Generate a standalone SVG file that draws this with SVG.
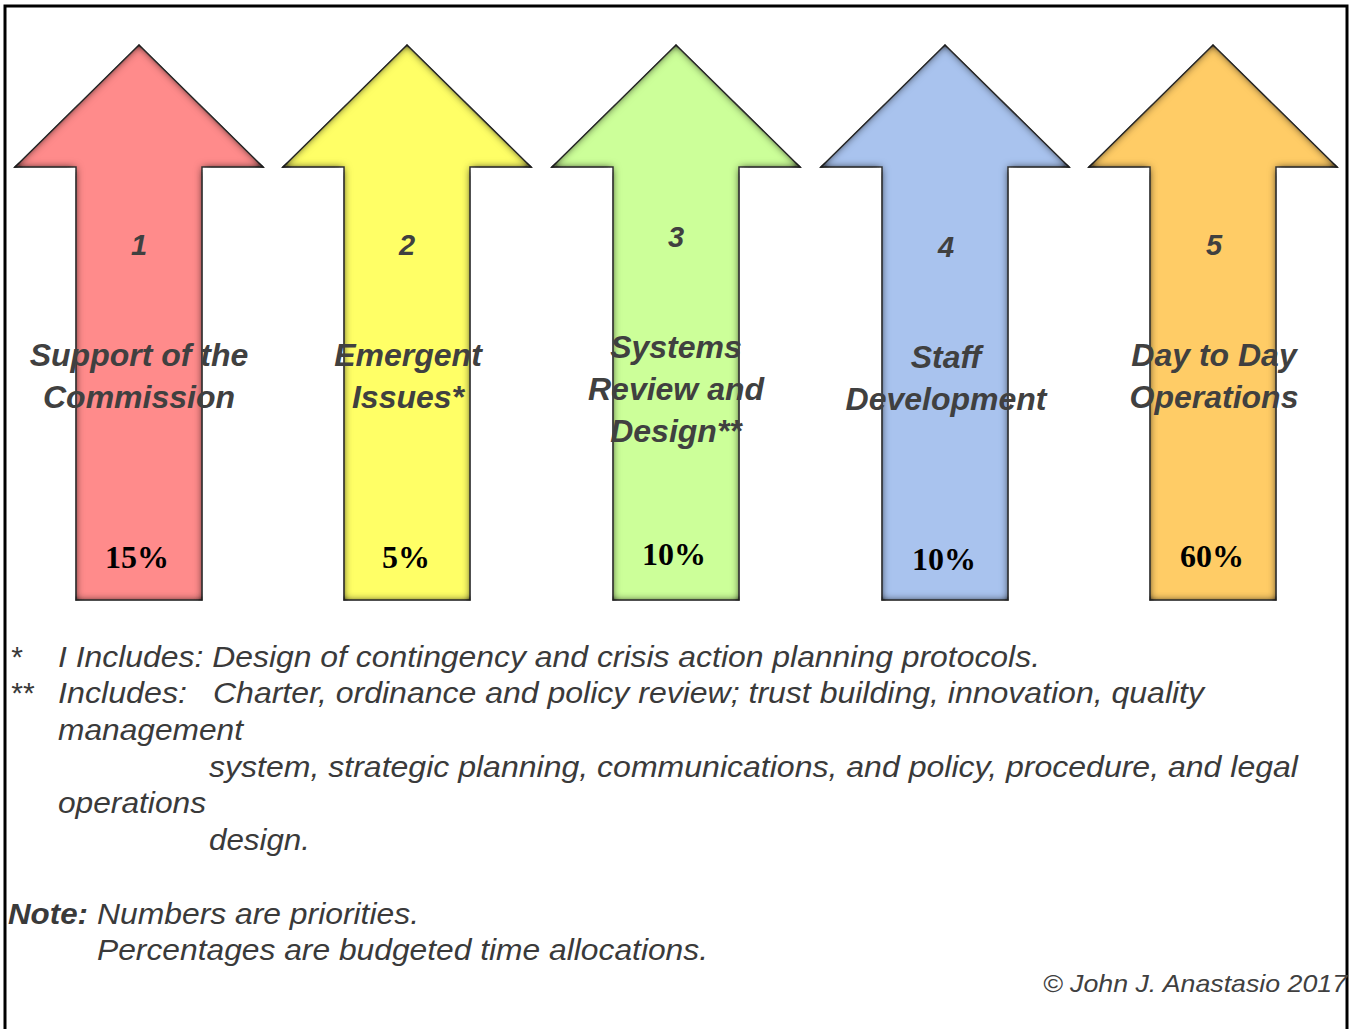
<svg xmlns="http://www.w3.org/2000/svg" xmlns:xlink="http://www.w3.org/1999/xlink" width="1349" height="1029" viewBox="0 0 1349 1029">
  <style>
    .num { font-family: "Liberation Sans", Arial, sans-serif; font-weight: bold; font-style: italic; font-size: 29px; fill: #404040; text-anchor: middle; }
    .lbl { font-family: "Liberation Sans", Arial, sans-serif; font-weight: bold; font-style: italic; font-size: 32px; fill: #404040; text-anchor: middle; }
    .pct { font-family: "Liberation Serif", "Times New Roman", serif; font-weight: bold; font-size: 32px; fill: #000; text-anchor: middle; }
    .fn { font-family: "Liberation Sans", Arial, sans-serif; font-style: italic; font-size: 30px; fill: #3a3a3a; }
    .fnb { font-family: "Liberation Sans", Arial, sans-serif; font-style: italic; font-weight: bold; font-size: 30px; fill: #3a3a3a; }
    .copy { font-family: "Liberation Sans", Arial, sans-serif; font-style: italic; font-size: 24px; fill: #404040; }
    .frame { fill: none; stroke: #000; stroke-width: 3; }
    .arrow { stroke: #3c3c3c; stroke-width: 1.5; filter: url(#bevel); }
  </style>
  <defs>
    <!-- block arrow pointing up, centred on x = 0 -->
    <path id="arrow" d="M0,45 L124,167 L63,167 L63,600 L-63,600 L-63,167 L-124,167 Z"/>
    <!-- soft dark inner shading along the outline -->
    <filter id="bevel" x="-10%" y="-5%" width="120%" height="110%">
      <feGaussianBlur in="SourceGraphic" stdDeviation="0.7" result="soft"/>
      <feGaussianBlur in="SourceAlpha" stdDeviation="4" result="blur"/>
      <feComposite in="SourceAlpha" in2="blur" operator="arithmetic" k2="1.8" k3="-1.8" result="edge"/>
      <feFlood flood-color="#1a1a1a" flood-opacity="0.85"/>
      <feComposite in2="edge" operator="in" result="shade"/>
      <feMerge>
        <feMergeNode in="soft"/>
        <feMergeNode in="shade"/>
      </feMerge>
    </filter>
  </defs>

  <rect width="1349" height="1029" fill="#fff"/>
  <rect class="frame" x="5" y="6" width="1342" height="1040"/>

  <g id="connectors"/>

  <g id="node-1">
    <use xlink:href="#arrow" class="arrow" x="139" fill="#ff8b8b"/>
    <text class="num" x="139" y="255">1</text>
    <text class="lbl" x="139" y="366">Support of the</text>
    <text class="lbl" x="139" y="408">Commission</text>
    <text class="pct" x="137" y="568">15%</text>
  </g>

  <g id="node-2">
    <use xlink:href="#arrow" class="arrow" x="407" fill="#ffff66"/>
    <text class="num" x="407" y="255">2</text>
    <text class="lbl" x="408" y="366">Emergent</text>
    <text class="lbl" x="408" y="408">Issues*</text>
    <text class="pct" x="406" y="568">5%</text>
  </g>

  <g id="node-3">
    <use xlink:href="#arrow" class="arrow" x="676" fill="#ccff99"/>
    <text class="num" x="676" y="247">3</text>
    <text class="lbl" x="676" y="358">Systems</text>
    <text class="lbl" x="676" y="400">Review and</text>
    <text class="lbl" x="676" y="442">Design**</text>
    <text class="pct" x="674" y="565">10%</text>
  </g>

  <g id="node-4">
    <use xlink:href="#arrow" class="arrow" x="945" fill="#a9c3ee"/>
    <text class="num" x="946" y="257">4</text>
    <text class="lbl" x="946" y="368">Staff</text>
    <text class="lbl" x="946" y="410">Development</text>
    <text class="pct" x="944" y="570">10%</text>
  </g>

  <g id="node-5">
    <use xlink:href="#arrow" class="arrow" x="1213" fill="#ffcc66"/>
    <text class="num" x="1214" y="255">5</text>
    <text class="lbl" x="1214" y="366">Day to Day</text>
    <text class="lbl" x="1214" y="408">Operations</text>
    <text class="pct" x="1212" y="567">60%</text>
  </g>

  <g id="footnotes">
    <text class="fn" x="10" y="667">*</text>
    <text class="fn" x="58" y="667" textLength="982" lengthAdjust="spacingAndGlyphs">I Includes: Design of contingency and crisis action planning protocols.</text>
    <text class="fn" x="10" y="703">**</text>
    <text class="fn" x="58" y="703" textLength="129" lengthAdjust="spacingAndGlyphs">Includes:</text>
    <text class="fn" x="213" y="703" textLength="991" lengthAdjust="spacingAndGlyphs">Charter, ordinance and policy review; trust building, innovation, quality</text>
    <text class="fn" x="58" y="740" textLength="185" lengthAdjust="spacingAndGlyphs">management</text>
    <text class="fn" x="209" y="777" textLength="1089" lengthAdjust="spacingAndGlyphs">system, strategic planning, communications, and policy, procedure, and legal</text>
    <text class="fn" x="58" y="813" textLength="148" lengthAdjust="spacingAndGlyphs">operations</text>
    <text class="fn" x="209" y="850" textLength="101" lengthAdjust="spacingAndGlyphs">design.</text>
  </g>

  <g id="note">
    <text class="fnb" x="8" y="924" textLength="80" lengthAdjust="spacingAndGlyphs">Note:</text>
    <text class="fn" x="97" y="924" textLength="322" lengthAdjust="spacingAndGlyphs">Numbers are priorities.</text>
    <text class="fn" x="97" y="960" textLength="611" lengthAdjust="spacingAndGlyphs">Percentages are budgeted time allocations.</text>
    <text class="copy" x="1043" y="992" textLength="304" lengthAdjust="spacingAndGlyphs">© John J. Anastasio 2017</text>
  </g>
</svg>
